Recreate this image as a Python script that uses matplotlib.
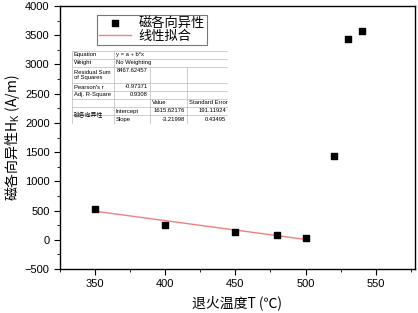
import numpy as np
import matplotlib
matplotlib.use("Agg")
import matplotlib.pyplot as plt
from matplotlib.ticker import MultipleLocator

plt.rcParams['font.family'] = ['Liberation Sans', 'Noto Sans CJK SC', 'DejaVu Sans']
plt.rcParams['mathtext.fontset'] = 'custom'
plt.rcParams['mathtext.rm'] = 'Liberation Sans'
plt.rcParams['mathtext.it'] = 'Liberation Sans'

# data
temp = [350, 400, 450, 480, 500, 520, 530, 540]
hk = [530, 260, 130, 80, 30, 1440, 3440, 3580]
fit_x = [350, 500]
intercept = 1615.62176
slope = -3.21998

table_rows = [
    ["Equation", "y = a + b*x"],
    ["Weight", "No Weighting"],
    ["Residual Sum\nof Squares", "8467.62457"],
    ["Pearson's r", "-0.97371"],
    ["Adj. R-Square", "0.9308"],
]
coef_names = ["Intercept", "Slope"]
coef_values = ["1615.62176", "-3.21998"]
coef_errors = ["191.11924", "0.43495"]

cjk = ['Noto Sans CJK SC', 'DejaVu Sans']

fig = plt.figure(figsize=(4.18, 3.13), dpi=100)
ax = fig.add_axes([60/418, 1-269/313, 355/418, 263/313])

ax.scatter(temp, hk, marker='s', s=22, color='black', zorder=3, label='磁各向异性')
fx = np.array(fit_x)
ax.plot(fx, intercept + slope*fx, color='#f08080', lw=1.0, zorder=2, label='线性拟合')

ax.set_xlim(325, 578)
ax.set_ylim(-500, 4000)
ax.xaxis.set_major_locator(MultipleLocator(50))
ax.xaxis.set_minor_locator(MultipleLocator(25))
ax.yaxis.set_major_locator(MultipleLocator(500))
ax.yaxis.set_minor_locator(MultipleLocator(250))
ax.tick_params(which='both', direction='out', top=False, right=False, labelsize=8)
ax.tick_params(which='major', length=4)
ax.tick_params(which='minor', length=2)
for sp in ax.spines.values():
    sp.set_linewidth(1.0)

ax.set_xlabel('退火温度T (℃)', family=cjk, fontsize=10, labelpad=4)
ax.set_ylabel('磁各向异性H$_K$ (A/m)', family=cjk, fontsize=10, labelpad=2)

leg = ax.legend(loc='upper left', bbox_to_anchor=(0.104, 0.966), prop={'family': cjk, 'size': 9.5},
                frameon=True, fancybox=False, edgecolor='#555555', handlelength=2.4,
                borderpad=0.15, labelspacing=0.0, handletextpad=0.6, scatterpoints=1,
                borderaxespad=0)
leg.get_frame().set_linewidth(0.8)

# fit result table, drawn in pixel units
tab = fig.add_axes([72/418, 1-124/313, 156/418, 73/313])
tab.set_xlim(72, 228)
tab.set_ylim(124, 51)
tab.axis('off')
rows = [51, 58.7, 67, 83.3, 91, 98.7, 106.7, 115.3, 124]
lc = '#bbbbbb'
for y in rows:
    tab.plot([72, 228], [y, y], color=lc, lw=0.5)
tab.plot([72, 72], [51, 124], color=lc, lw=0.5)
tab.plot([228, 228], [51, 124], color=lc, lw=0.5)
tab.plot([114, 114], [51, 124], color=lc, lw=0.5)
for x in (150, 187):
    tab.plot([x, x], [67, 124], color=lc, lw=0.5)
fs = 4.2
for i, (name, val) in enumerate(table_rows):
    yc = (rows[i] + rows[i+1]) / 2
    tab.text(74, yc, name, fontsize=fs, va='center', ha='left', linespacing=1.0)
    if i < 2:
        tab.text(116, yc, val, fontsize=fs, va='center', ha='left')
    else:
        tab.text(148, rows[i] + 3.5, val, fontsize=fs, va='center', ha='right')
tab.text(152, (rows[5]+rows[6])/2, 'Value', fontsize=fs, va='center', ha='left')
tab.text(189, (rows[5]+rows[6])/2, 'Standard Error', fontsize=fs, va='center', ha='left')
tab.text(74, (rows[6]+rows[8])/2, '磁各向异性', family=cjk, fontsize=fs, va='center', ha='left')
for j in range(2):
    yc = (rows[6+j] + rows[7+j]) / 2
    tab.text(116, yc, coef_names[j], fontsize=fs, va='center', ha='left')
    tab.text(185, yc, coef_values[j], fontsize=fs, va='center', ha='right')
    tab.text(226, yc, coef_errors[j], fontsize=fs, va='center', ha='right')

fig.savefig('out.png', dpi=100)
